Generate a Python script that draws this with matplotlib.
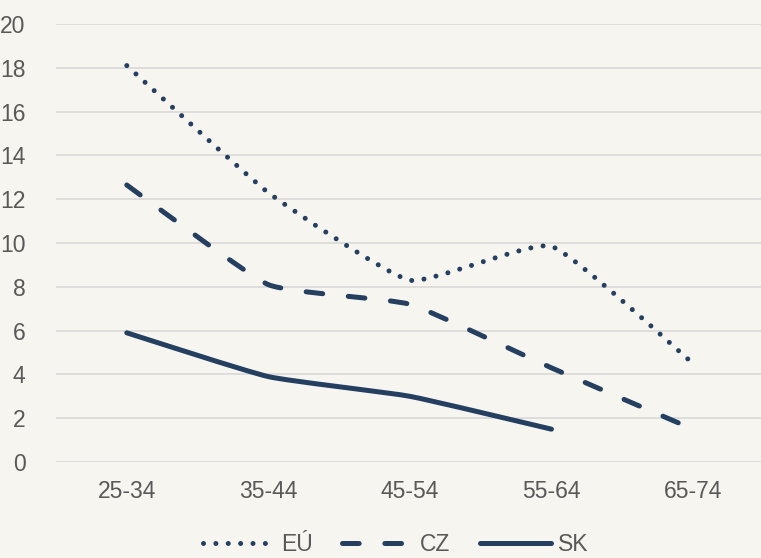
import matplotlib
matplotlib.use("Agg")
import matplotlib.pyplot as plt
from matplotlib.path import Path
from matplotlib.patches import PathPatch
from matplotlib.lines import Line2D
import numpy as np

categories = ["25-34", "35-44", "45-54", "55-64", "65-74"]
eu = [18.1, 12.3, 8.3, 9.85, 4.5]
cz = [12.65, 8.1, 7.2, 4.3, 1.5]
sk = [5.9, 3.9, 3.0, 1.5]

navy = "#243F60"
grey_text = "#595959"
bg = "#F7F5F0"

plt.rcParams["font.family"] = ["Liberation Sans Narrow", "Liberation Sans", "DejaVu Sans"]
plt.rcParams["lines.scale_dashes"] = False

dot_style = (0, (0.01, 8.9))
dash_style = (0, (12.0, 18.5))
lw = 3.6
tension = 1 / 14


def smooth_path(xs, ys):
    # lightly smoothed line: cubic bezier through every point
    pts = np.column_stack([xs, ys]).astype(float)
    n = len(pts)
    verts = [pts[0]]
    codes = [Path.MOVETO]
    for i in range(n - 1):
        p0 = pts[i - 1] if i > 0 else pts[i]
        p1 = pts[i]
        p2 = pts[i + 1]
        p3 = pts[i + 2] if i + 2 < n else pts[i + 1]
        c1 = p1 + (p2 - p0) * tension
        c2 = p2 - (p3 - p1) * tension
        verts += [c1, c2, p2]
        codes += [Path.CURVE4] * 3
    return Path(verts, codes)


fig = plt.figure(figsize=(7.61, 5.58), dpi=100, facecolor=bg)
ax = fig.add_axes([0.0736, 0.172, 0.93, 0.785], facecolor=bg)

x = np.arange(len(categories))
for vals, ls in [(eu, dot_style), (cz, dash_style), (sk, "-")]:
    p = PathPatch(smooth_path(x[:len(vals)], vals), fill=False, edgecolor=navy,
                  linewidth=lw, linestyle=ls, capstyle="round", joinstyle="round")
    ax.add_patch(p)

ax.set_xlim(-0.5, len(categories) - 0.5)
ax.set_ylim(0, 20)
ax.set_yticks(range(0, 21, 2))
ax.set_xticks(x)
ax.set_xticklabels(categories)
ax.grid(axis="y", color="#D9D9D9", linewidth=1.2)
ax.set_axisbelow(True)
for s in ax.spines.values():
    s.set_visible(False)
ax.tick_params(axis="both", length=0, labelsize=16.5, labelcolor=grey_text)
ax.tick_params(axis="y", pad=22)
ax.tick_params(axis="x", pad=13)

handles = [
    Line2D([], [], color=navy, lw=lw, linestyle=dot_style, dash_capstyle="round"),
    Line2D([], [], color=navy, lw=lw, linestyle=dash_style, dash_capstyle="round"),
    Line2D([], [], color=navy, lw=lw, solid_capstyle="round"),
]
fig.legend(handles, ["EÚ", "CZ", "SK"], loc="center", bbox_to_anchor=(0.52, 0.024),
           ncol=3, frameon=False, fontsize=16.5, labelcolor=grey_text,
           handlelength=3.1, handletextpad=0.3, columnspacing=1.3)

fig.savefig("out.png", dpi=100, facecolor=bg)
